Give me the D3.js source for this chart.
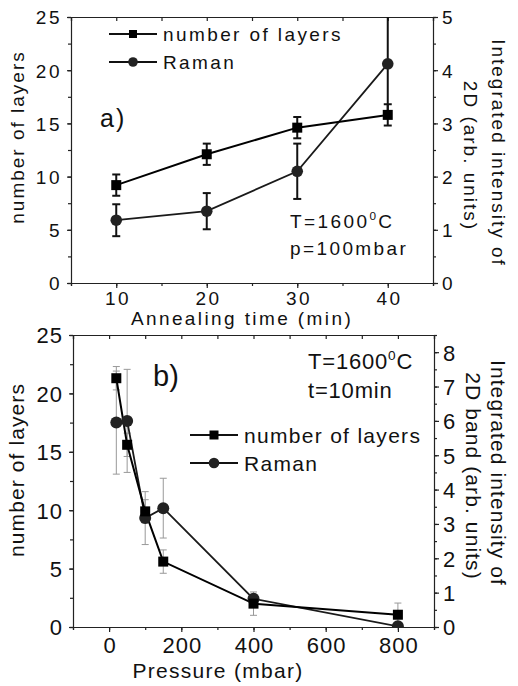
<!DOCTYPE html>
<html>
<head>
<meta charset="utf-8">
<script src="https://cdn.jsdelivr.net/npm/d3@7"></script>
<style>
  body { margin: 0; background: #fff; }
  svg text { font-family: "Liberation Sans", Arial, sans-serif; fill: #111; }
</style>
</head>
<body>
<svg id="chart" width="518" height="686"></svg>
<script>
// panel a) annealing time series
const timeMin = [10, 20, 30, 40];
const layersA = [9.2, 12.1, 14.6, 15.8];
const layersAErr = [1, 1, 1, 1];
const ramanA = [1.18, 1.35, 2.1, 4.12];
const ramanAErr = [0.3, 0.34, 0.52, 1.0];

// panel b) pressure series
const pressure = [20, 50, 100, 150, 400, 800];
const layersB = [21.3, 15.6, 9.9, 5.6, 2.0, 1.05];
const layersBErr = [1, 1, 1, 1, 1, 1];
const ramanB = [5.95, 6.0, 3.17, 3.46, 0.82, 0.02];
const ramanBErr = [1.5, 1.5, 0.77, 0.87, 0.1, 0];

// tick labels
const xTicksA = [10, 20, 30, 40];
const xTicksB = [0, 200, 400, 600, 800];
const layerTicks = [0, 5, 10, 15, 20, 25];
const ramanTicksA = [0, 1, 2, 3, 4, 5];
const ramanTicksB = [0, 1, 2, 3, 4, 5, 6, 7, 8];

const svg = d3.select("#chart");

function drawPanel(cfg) {
  const g = svg.append("g");
  const { left, right, top, bottom } = cfg;

  const x = d3.scaleLinear().domain(cfg.xDomain).range([left, right]);
  const yL = d3.scaleLinear().domain([0, 25]).range([bottom, top]);
  const yR = d3.scaleLinear().domain(cfg.rDomain).range([bottom, top]);

  // clip for the data
  svg.append("clipPath").attr("id", cfg.id)
    .append("rect").attr("x", left).attr("y", top)
    .attr("width", right - left).attr("height", bottom - top);

  // axes (major + minor)
  function addAxis(axis, tr) {
    const a = g.append("g").attr("transform", tr).call(axis);
    a.select(".domain").attr("stroke", "#222").attr("stroke-width", 1.2);
    a.selectAll(".tick line").attr("stroke", "#222").attr("stroke-width", 1.2);
    a.selectAll("text").attr("font-size", cfg.tickFs).attr("fill", "#111")
      .attr("letter-spacing", cfg.tickLs)
      .style("font-family", "'Liberation Sans', Arial, sans-serif");
    return a;
  }
  const fmt = d3.format("d");
  const xMinor = d3.range(cfg.xDomain[0], cfg.xDomain[1] + 0.001, cfg.xMinorStep);
  addAxis(d3.axisBottom(x).tickValues(xMinor).tickSize(3).tickFormat(""), `translate(0,${bottom})`);
  const xb = addAxis(d3.axisBottom(x).tickValues(cfg.xTicks).tickSize(5).tickPadding(cfg.xPad).tickFormat(fmt), `translate(0,${bottom})`);
  xb.select(".domain").remove();
  xb.selectAll("text").attr("dx", cfg.tickLs / 2);
  addAxis(d3.axisTop(x).tickValues(xMinor).tickSize(-4).tickFormat(""), `translate(0,${top})`);

  addAxis(d3.axisLeft(yL).tickValues(d3.range(0, 25.01, 2.5)).tickSize(3).tickFormat(""), `translate(${left},0)`);
  const yl = addAxis(d3.axisLeft(yL).tickValues(layerTicks).tickSize(4).tickPadding(cfg.yPad).tickFormat(fmt), `translate(${left},0)`);
  yl.select(".domain").remove();
  yl.selectAll("text").attr("dy", "0.36em");

  addAxis(d3.axisRight(yR).tickValues(d3.range(0, cfg.rDomain[1] + 0.001, 0.5)).tickSize(3).tickFormat(""), `translate(${right},0)`);
  const yr = addAxis(d3.axisRight(yR).tickValues(cfg.rTicks).tickSize(5).tickPadding(4).tickFormat(fmt), `translate(${right},0)`);
  yr.select(".domain").remove();
  yr.selectAll("text").attr("dy", "0.36em");

  // axis titles
  g.append("text").attr("x", cfg.xTitleX).attr("y", cfg.xTitleY)
    .attr("text-anchor", "middle").attr("font-size", cfg.titleFs)
    .attr("letter-spacing", cfg.titleLs).text(cfg.xTitle);
  g.append("text").attr("transform", `translate(24,${cfg.lTitleY}) rotate(-90)`)
    .attr("text-anchor", "middle").attr("font-size", cfg.titleFs)
    .attr("letter-spacing", cfg.yTitleLs).text("number of layers");
  g.append("text").attr("transform", `translate(${cfg.rTitleX1},${cfg.rTitleY}) rotate(90)`)
    .attr("text-anchor", "middle").attr("font-size", cfg.titleFs)
    .attr("letter-spacing", cfg.yTitleLs).text("Integrated intensity of");
  g.append("text").attr("transform", `translate(${cfg.rTitleX2},${cfg.rTitleY + 3}) rotate(90)`)
    .attr("text-anchor", "middle").attr("font-size", cfg.titleFs)
    .attr("letter-spacing", cfg.yTitleLs).text(cfg.rTitle2);

  // data
  const data = g.append("g").attr("clip-path", `url(#${cfg.id})`);
  const line = (ys, sc) => d3.line().x((d, i) => x(cfg.xs[i])).y((d, i) => sc(ys[i]))(ys);

  function errBars(ys, es, sc) {
    cfg.xs.forEach((xv, i) => {
      if (!es[i]) return;
      const cx = x(xv), y1 = sc(ys[i] + es[i]), y2 = sc(ys[i] - es[i]);
      const eg = data.append("g").attr("stroke", cfg.errColor).attr("stroke-width", cfg.errWidth);
      eg.append("line").attr("x1", cx).attr("x2", cx).attr("y1", y1).attr("y2", y2);
      eg.append("line").attr("x1", cx - cfg.cap).attr("x2", cx + cfg.cap).attr("y1", y1).attr("y2", y1);
      eg.append("line").attr("x1", cx - cfg.cap).attr("x2", cx + cfg.cap).attr("y1", y2).attr("y2", y2);
    });
  }
  errBars(cfg.raman, cfg.ramanErr, yR);
  errBars(cfg.layers, cfg.layersErr, yL);

  data.append("path").attr("d", line(cfg.raman, yR)).attr("fill", "none")
    .attr("stroke", "#1a1a1a").attr("stroke-width", 1.8);
  data.append("path").attr("d", line(cfg.layers, yL)).attr("fill", "none")
    .attr("stroke", "#000").attr("stroke-width", 2);

  data.selectAll(null).data(cfg.raman).join("circle")
    .attr("cx", (d, i) => x(cfg.xs[i])).attr("cy", d => yR(d))
    .attr("r", cfg.circR).attr("fill", "#222");
  data.selectAll(null).data(cfg.layers).join("rect")
    .attr("x", (d, i) => x(cfg.xs[i]) - cfg.sq / 2).attr("y", d => yL(d) - cfg.sq / 2)
    .attr("width", cfg.sq).attr("height", cfg.sq).attr("fill", "#000");

  // legend
  const lg = g.append("g");
  [["number of layers", "sq"], ["Raman", "circ"]].forEach(([label, kind], i) => {
    const ly = cfg.legY + i * cfg.legDy;
    lg.append("line").attr("x1", cfg.legX).attr("x2", cfg.legX + cfg.legW)
      .attr("y1", ly).attr("y2", ly).attr("stroke", "#111").attr("stroke-width", 2);
    const cx = cfg.legX + cfg.legW / 2;
    if (kind === "sq") {
      lg.append("rect").attr("x", cx - cfg.legSq / 2).attr("y", ly - cfg.legSq / 2)
        .attr("width", cfg.legSq).attr("height", cfg.legSq).attr("fill", "#000");
    } else {
      lg.append("circle").attr("cx", cx).attr("cy", ly).attr("r", cfg.legSq / 2 + 0.8).attr("fill", "#222");
    }
    lg.append("text").attr("x", cfg.legX + cfg.legW + 6).attr("y", ly + cfg.legFs * 0.36)
      .attr("font-size", cfg.legFs).attr("letter-spacing", cfg.legLs).text(label);
  });

  // panel tag and conditions
  g.append("text").attr("x", cfg.tagX).attr("y", cfg.tagY).attr("font-size", cfg.tagFs)
    .attr("letter-spacing", cfg.tagLs).text(cfg.tag);
  const t1 = g.append("text").attr("x", cfg.condX).attr("y", cfg.condY)
    .attr("font-size", cfg.condFs).attr("letter-spacing", cfg.condLs);
  t1.append("tspan").text("T=1600");
  t1.append("tspan").attr("font-size", cfg.condFs * 0.62).attr("dy", -cfg.condFs * 0.42).text("0");
  t1.append("tspan").attr("dy", cfg.condFs * 0.42).text("C");
  g.append("text").attr("x", cfg.condX).attr("y", cfg.condY + cfg.condDy)
    .attr("font-size", cfg.condFs).attr("letter-spacing", cfg.condLs).text(cfg.cond2);
}

drawPanel({
  id: "clipA", left: 71, right: 433, top: 17, bottom: 283,
  tickFs: 19, tickLs: 2.5, xPad: 4, yPad: 5,
  titleFs: 19, titleLs: 2.4, yTitleLs: 2.0,
  xDomain: [5, 45], xMinorStep: 5, xTicks: xTicksA, rDomain: [0, 5], rTicks: ramanTicksA,
  xs: timeMin, layers: layersA, layersErr: layersAErr, raman: ramanA, ramanErr: ramanAErr,
  errColor: "#111", errWidth: 2, cap: 4, sq: 10, circR: 5.8,
  xTitle: "Annealing time (min)", xTitleX: 242, xTitleY: 325,
  lTitleY: 137, rTitleX1: 492, rTitleX2: 464, rTitleY: 153,
  rTitle2: "2D (arb. units)",
  legX: 109, legW: 48, legY: 34, legDy: 28, legSq: 8, legFs: 19, legLs: 2.4,
  tag: "a)", tagX: 100, tagY: 127, tagFs: 25, tagLs: 2,
  condX: 290, condY: 228, condDy: 27, condFs: 19, condLs: 2.4, cond2: "p=100mbar"
});

drawPanel({
  id: "clipB", left: 73, right: 434, top: 335, bottom: 627,
  tickFs: 22, tickLs: 1, xPad: 5, yPad: 6,
  titleFs: 21, titleLs: 1.3, yTitleLs: 1.1,
  xDomain: [-100, 900], xMinorStep: 100, xTicks: xTicksB, rDomain: [0, 8.5], rTicks: ramanTicksB,
  xs: pressure, layers: layersB, layersErr: layersBErr, raman: ramanB, ramanErr: ramanBErr,
  errColor: "#999", errWidth: 1, cap: 3.5, sq: 10, circR: 6,
  xTitle: "Pressure (mbar)", xTitleX: 218, xTitleY: 678,
  lTitleY: 470, rTitleX1: 491, rTitleX2: 466, rTitleY: 473,
  rTitle2: "2D band (arb. units)",
  legX: 190, legW: 48, legY: 435, legDy: 28, legSq: 9, legFs: 21, legLs: 1.3,
  tag: "b)", tagX: 153, tagY: 386, tagFs: 29, tagLs: 0,
  condX: 308, condY: 369, condDy: 29, condFs: 22, condLs: 0.8, cond2: "t=10min"
});
</script>
</body>
</html>
